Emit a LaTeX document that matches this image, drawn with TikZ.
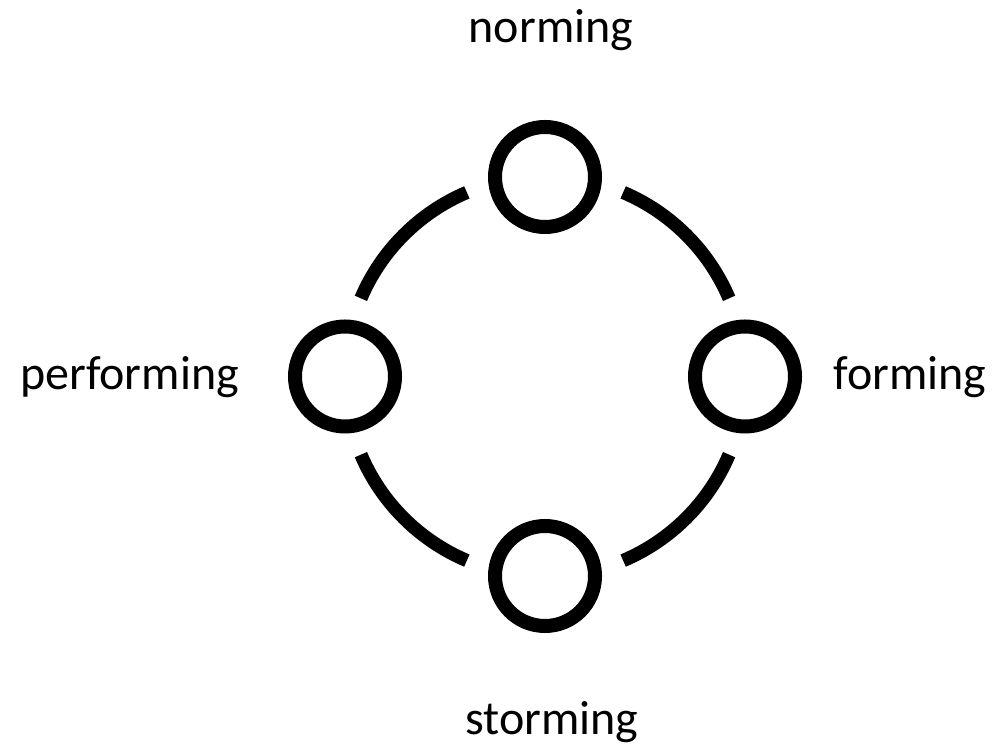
\documentclass[tikz,border=0pt]{standalone}
\usepackage{fontspec}
\setmainfont{Carlito}
\begin{document}
\begin{tikzpicture}[x=0.75pt,y=0.75pt,
  stage/.style={circle,draw=black,line width=10.5pt,minimum size=75pt,inner sep=0pt},
  arcline/.style={draw=black,line width=10pt,line cap=butt},
  lbl/.style={font=\fontsize{36}{43}\selectfont,anchor=base,inner sep=0pt}]
\useasboundingbox (0,0) rectangle (997,750);
\coordinate (c) at (545,373.5);
\node[stage] (top) at (545,573) {};
\node[stage] (bot) at (545,174) {};
\node[stage] (lft) at (345,373.5) {};
\node[stage] (rgt) at (745,373.5) {};
\draw[arcline] ([shift={(113:200)}]c) arc[start angle=113,end angle=157,radius=200];
\draw[arcline] ([shift={(203:200)}]c) arc[start angle=203,end angle=247,radius=200];
\draw[arcline] ([shift={(293:200)}]c) arc[start angle=293,end angle=337,radius=200];
\draw[arcline] ([shift={(23:200)}]c) arc[start angle=23,end angle=67,radius=200];
\node[lbl] (tn) at (551,707) {norming};
\node[lbl] (bn) at (552,15) {storming};
\node[lbl] (ln) at (129.5,360) {performing};
\node[lbl] (rn) at (910,360) {forming};
\end{tikzpicture}
\end{document}
